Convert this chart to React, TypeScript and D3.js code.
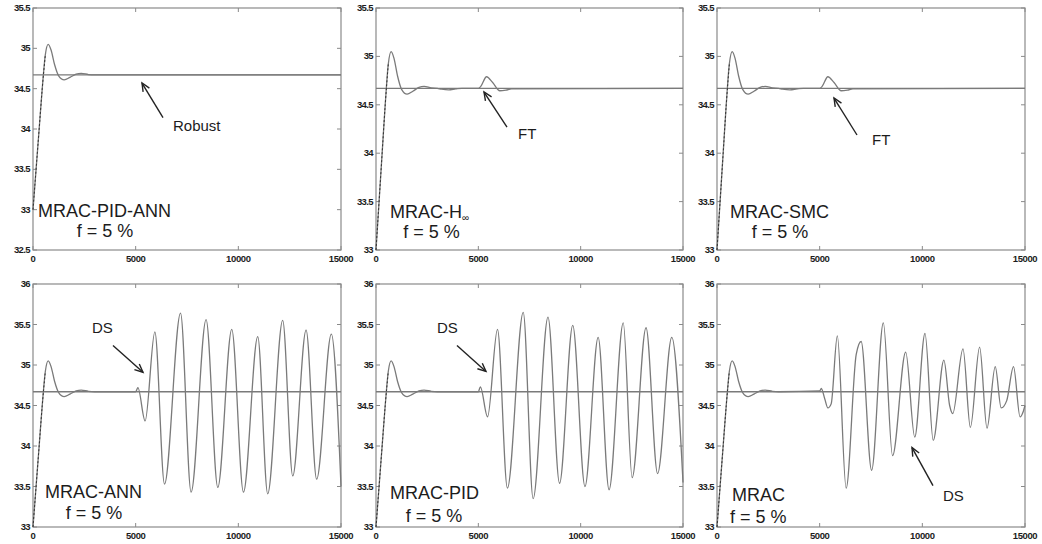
import React from 'react';
import * as d3 from 'd3';

type Pt = [number, number];

// ---------- data ----------
const xTicks = [0, 5000, 10000, 15000];
const yTicksA = [32.5, 33, 33.5, 34, 34.5, 35, 35.5];
const yTicksB = [33, 33.5, 34, 34.5, 35, 35.5];
const yTicksC = [33, 33.5, 34, 34.5, 35, 35.5, 36];
const setpoint = 34.67;

const transient: Pt[] = [
  [0, 33.0], [150, 33.5], [300, 34.0], [450, 34.5], [600, 34.92], [740, 35.05],
  [880, 34.98], [1050, 34.8], [1250, 34.66], [1520, 34.61], [1800, 34.64],
  [2100, 34.68], [2350, 34.69], [2700, 34.675], [3000, 34.67],
];
const riseRef: Pt[] = [[0, 33.0], [150, 33.5], [300, 34.0], [450, 34.5], [600, 34.92]];

const robustTail: Pt[] = [[3000, 34.67], [15000, 34.67]];
const ftTail: Pt[] = [
  [3000, 34.67], [3200, 34.662], [3550, 34.655], [3900, 34.664], [4200, 34.67],
  [5000, 34.67], [5120, 34.69], [5400, 34.79], [5700, 34.73], [6050, 34.645],
  [6350, 34.652], [6620, 34.665], [15000, 34.67],
];
const annTail: Pt[] = [
  [3000, 34.67], [5000, 34.67], [5110, 34.72], [5460, 34.31], [5935, 35.41],
  [6405, 33.53], [7185, 35.64], [7700, 33.43], [8430, 35.56], [9000, 33.49],
  [9680, 35.44], [10250, 33.43], [10945, 35.35], [11430, 33.41], [12160, 35.55],
  [12650, 33.63], [13300, 35.43], [13815, 33.59], [14530, 35.38], [15000, 33.5],
];
const pidTail: Pt[] = [
  [3000, 34.67], [5000, 34.67], [5100, 34.73], [5450, 34.36], [5936, 35.44],
  [6420, 33.48], [7194, 35.65], [7678, 33.35], [8404, 35.59], [8968, 33.54],
  [9613, 35.49], [10210, 33.5], [10855, 35.34], [11387, 33.46], [12081, 35.52],
  [12516, 33.61], [13194, 35.46], [13758, 33.66], [14452, 35.34], [15000, 33.55],
];
const mracTail: Pt[] = [
  [3000, 34.67], [5000, 34.68], [5080, 34.71], [5250, 34.58], [5400, 34.47],
  [5560, 34.52], [5860, 35.36], [6290, 33.48], [6780, 35.13], [7020, 35.29],
  [7530, 33.7], [8100, 35.52], [8550, 33.88], [9190, 35.16], [9630, 34.11],
  [10130, 35.39], [10530, 34.07], [11050, 35.06], [11330, 34.5], [11480, 34.4],
  [11980, 35.2], [12340, 34.23], [12790, 35.22], [13150, 34.22], [13550, 34.98],
  [13840, 34.47], [14110, 34.56], [14440, 34.98], [14760, 34.36], [14920, 34.43],
  [15000, 34.5],
];

const names = ['MRAC-PID-ANN', 'MRAC-H', 'MRAC-SMC', 'MRAC-ANN', 'MRAC-PID', 'MRAC'];
const faultLabel = 'f = 5 %';
const noteTexts = ['Robust', 'FT', 'FT', 'DS', 'DS', 'DS'];

// ---------- layout ----------
const cols = [[33, 341], [376, 683], [717, 1025]];
const rows = [[8, 250], [284, 527]];

interface PanelCfg {
  col: number; row: number; domain: [number, number]; yTicks: number[];
  tail: Pt[]; name: string; sub?: string;
  namePos: Pt; fPos: Pt; fAnchor: 'start' | 'middle';
  note: string; notePos: Pt; arrowFrom: Pt; arrowTo: Pt;
}

const panels: PanelCfg[] = [
  { col: 0, row: 0, domain: [32.5, 35.5], yTicks: yTicksA, tail: robustTail, name: names[0],
    namePos: [244, 32.91], fPos: [3506, 32.66], fAnchor: 'middle',
    note: noteTexts[0], notePos: [6818, 33.975], arrowFrom: [6331, 34.14], arrowTo: [5308, 34.57] },
  { col: 1, row: 0, domain: [33, 35.5], yTicks: yTicksB, tail: ftTail, name: names[1], sub: '\u221E',
    namePos: [684, 33.33], fPos: [2711, 33.124], fAnchor: 'middle',
    note: noteTexts[1], notePos: [6938, 34.147], arrowFrom: [6401, 34.27], arrowTo: [5277, 34.632] },
  { col: 2, row: 0, domain: [33, 35.5], yTicks: yTicksB, tail: ftTail, name: names[2],
    namePos: [633, 33.33], fPos: [3068, 33.124], fAnchor: 'middle',
    note: noteTexts[2], notePos: [7549, 34.085], arrowFrom: [6818, 34.188], arrowTo: [5698, 34.57] },
  { col: 0, row: 1, domain: [33, 36], yTicks: yTicksC, tail: annTail, name: names[3],
    namePos: [584, 33.36], fPos: [2971, 33.1], fAnchor: 'middle',
    note: noteTexts[3], notePos: [2873, 35.39], arrowFrom: [3896, 35.24], arrowTo: [5357, 34.91] },
  { col: 1, row: 1, domain: [33, 36], yTicks: yTicksC, tail: pidTail, name: names[4],
    namePos: [684, 33.35], fPos: [2834, 33.06], fAnchor: 'middle',
    note: noteTexts[4], notePos: [2980, 35.39], arrowFrom: [3957, 35.24], arrowTo: [5374, 34.92] },
  { col: 2, row: 1, domain: [33, 36], yTicks: yTicksC, tail: mracTail, name: names[5],
    namePos: [731, 33.32], fPos: [633, 33.05], fAnchor: 'start',
    note: noteTexts[5], notePos: [11006, 33.32], arrowFrom: [10519, 33.51], arrowTo: [9497, 33.98] },
];

const FONT = '"Liberation Sans", Arial, Helvetica, sans-serif';
const LINE = '#7a7a7a';
const FRAME = '#8a8a8a';
const TEXT = '#1c1c1c';

function Panel({ p }: { p: PanelCfg }) {
  const [x0, x1] = cols[p.col];
  const [yt, yb] = rows[p.row];
  const x = d3.scaleLinear().domain([0, 15000]).range([x0, x1]);
  const y = d3.scaleLinear().domain(p.domain).range([yb, yt]);
  const line = d3.line<Pt>().x(d => x(d[0])).y(d => y(d[1])).curve(d3.curveMonotoneX);
  const series = [...transient, ...p.tail.slice(1)];
  const tk = 4;

  const [fx, fy] = p.arrowFrom;
  const [tx, ty] = p.arrowTo;
  const ax1 = x(fx), ay1 = y(fy), ax2 = x(tx), ay2 = y(ty);
  const ang = Math.atan2(ay1 - ay2, ax1 - ax2);
  const hl = 9, ha = 0.42;
  const h1: Pt = [ax2 + hl * Math.cos(ang + ha), ay2 + hl * Math.sin(ang + ha)];
  const h2: Pt = [ax2 + hl * Math.cos(ang - ha), ay2 + hl * Math.sin(ang - ha)];

  return (
    <g>
      <rect x={x0} y={yt} width={x1 - x0} height={yb - yt} fill="#fff" stroke={FRAME} strokeWidth={1.2} />
      {xTicks.map(t => (
        <g key={'x' + t}>
          <line x1={x(t)} x2={x(t)} y1={yb} y2={yb - tk} stroke={FRAME} />
          <line x1={x(t)} x2={x(t)} y1={yt} y2={yt + tk} stroke={FRAME} />
          <text x={x(t)} y={yb + 12} textAnchor="middle" fontSize={9.5} fontWeight="bold"
            fontFamily={FONT} fill={TEXT} letterSpacing={-0.4}>{t}</text>
        </g>
      ))}
      {p.yTicks.map(v => (
        <g key={'y' + v}>
          <line x1={x0} x2={x0 + tk} y1={y(v)} y2={y(v)} stroke={FRAME} />
          <line x1={x1} x2={x1 - tk} y1={y(v)} y2={y(v)} stroke={FRAME} />
          <text x={x0 - 3} y={y(v) + 3} textAnchor="end" fontSize={9.5} fontWeight="bold"
            fontFamily={FONT} fill={TEXT} letterSpacing={-0.6}>{v}</text>
        </g>
      ))}
      <line x1={x(0)} x2={x(15000)} y1={y(setpoint)} y2={y(setpoint)} stroke={LINE} strokeWidth={1.3} />
      <path d={line(series) || ''} fill="none" stroke={LINE} strokeWidth={1.3} />
      <path d={line(riseRef) || ''} fill="none" stroke="#333" strokeWidth={1} strokeDasharray="2,2" />
      <text x={x(p.namePos[0])} y={y(p.namePos[1])} fontSize={18} fontFamily={FONT} fill={TEXT}>
        {p.name}
        {p.sub ? <tspan fontSize={10} dy={3}>{p.sub}</tspan> : null}
      </text>
      <text x={x(p.fPos[0])} y={y(p.fPos[1])} fontSize={18} fontFamily={FONT} fill={TEXT}
        textAnchor={p.fAnchor}>{faultLabel}</text>
      <text x={x(p.notePos[0])} y={y(p.notePos[1])} fontSize={15} fontFamily={FONT} fill={TEXT}>{p.note}</text>
      <line x1={ax1} y1={ay1} x2={ax2} y2={ay2} stroke="#222" strokeWidth={1.4} />
      <polyline points={`${h1[0]},${h1[1]} ${ax2},${ay2} ${h2[0]},${h2[1]}`} fill="none" stroke="#222" strokeWidth={1.4} />
    </g>
  );
}

export default function App() {
  return (
    <svg width={1042} height={544} style={{ position: 'absolute', left: 0, top: 0, background: '#fff' }}>
      <rect x={0} y={0} width={1042} height={544} fill="#fff" />
      {panels.map((p, i) => <Panel key={i} p={p} />)}
    </svg>
  );
}
